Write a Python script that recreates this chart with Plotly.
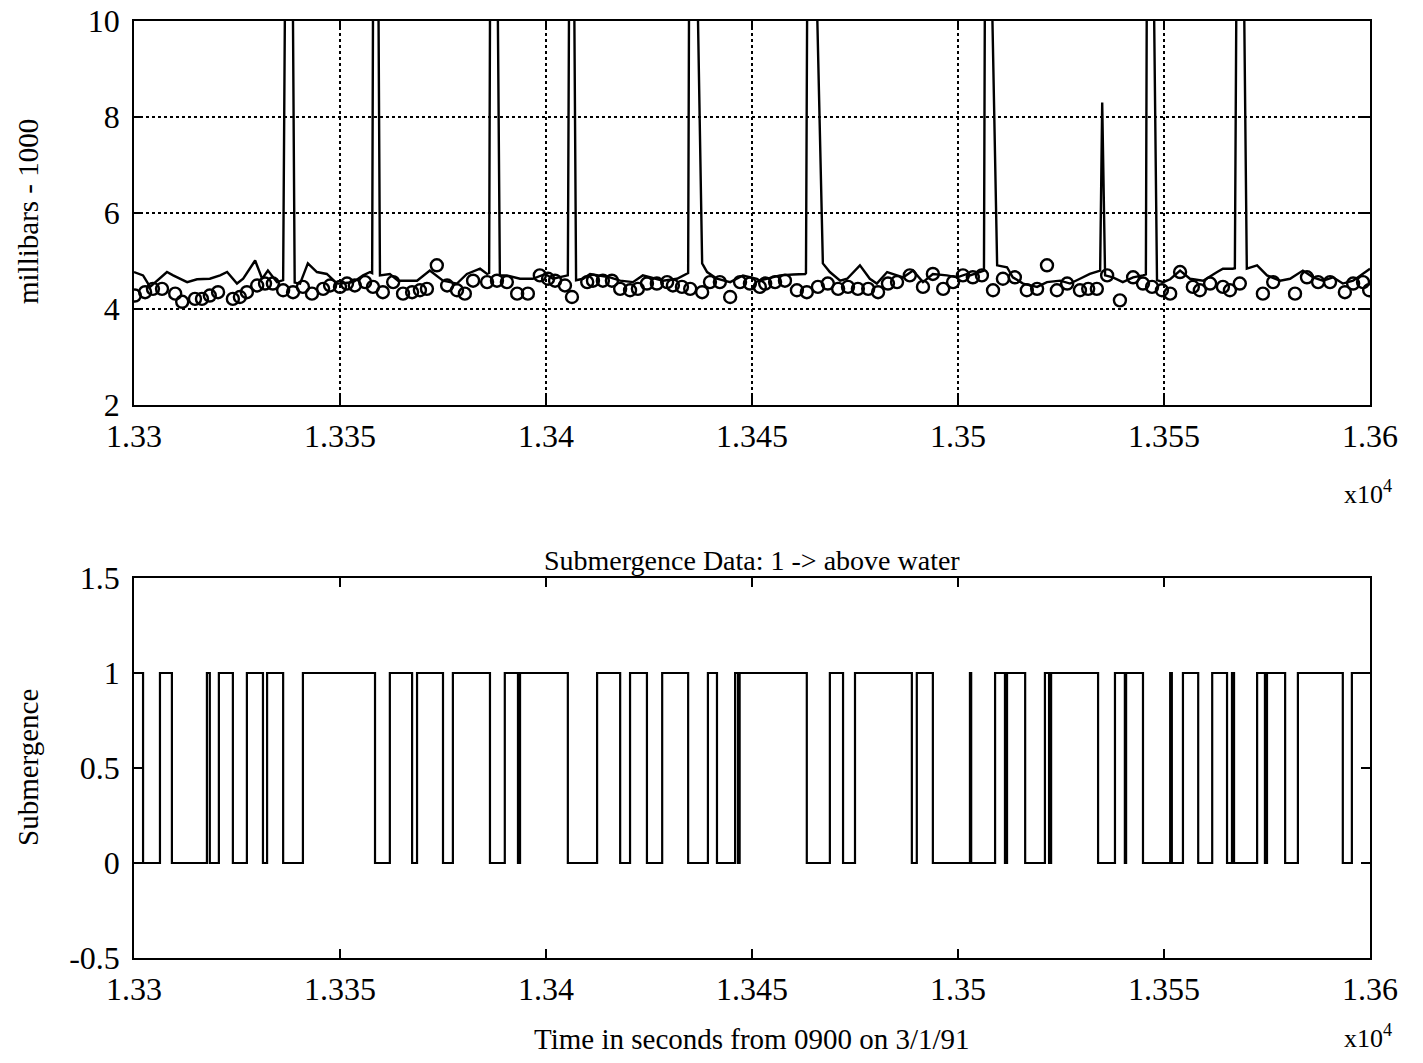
import plotly.graph_objects as go

# ---------------- data ----------------
x_tick_vals = [13300, 13350, 13400, 13450, 13500, 13550, 13600]
x_tick_labels = ["1.33", "1.335", "1.34", "1.345", "1.35", "1.355", "1.36"]
y1_tick_vals = [2, 4, 6, 8, 10]
y1_tick_labels = ["2", "4", "6", "8", "10"]
y2_tick_vals = [-0.5, 0, 0.5, 1, 1.5]
y2_tick_labels = ["-0.5", "0", "0.5", "1", "1.5"]

# pressure (millibars - 1000), solid line; spikes exceed the axis top
press_t = [
    13300.0, 13302.2, 13303.9, 13308.0, 13309.5, 13312.9, 13315.3, 13318.4, 13320.9, 13322.6,
    13325.0, 13326.5, 13329.4, 13331.1, 13332.5, 13334.7,
    13336.2, 13336.8, 13338.4, 13339.0,
    13340.3, 13342.2, 13344.4, 13346.8, 13349.3, 13350.0, 13353.2, 13355.6, 13357.3,
    13357.8, 13358.1, 13359.2, 13359.7,
    13362.1, 13364.1, 13368.7, 13371.8, 13375.0, 13378.4, 13380.8, 13384.0, 13385.7,
    13386.2, 13386.5, 13388.1, 13388.8,
    13390.5, 13393.7, 13396.8, 13399.8, 13401.7, 13405.1,
    13405.3, 13405.7, 13406.7, 13407.3,
    13409.0, 13410.7, 13413.1, 13415.5, 13418.0, 13421.1, 13423.5, 13425.2, 13428.4, 13431.8, 13434.2,
    13434.5, 13434.8, 13436.4, 13437.9, 13439.1,
    13441.5, 13444.7, 13447.8, 13451.2, 13451.9, 13456.8, 13460.0, 13462.9,
    13463.1, 13463.5, 13465.2, 13467.2,
    13468.9, 13471.4, 13473.1, 13476.2, 13478.6, 13480.3, 13482.8, 13486.7, 13489.1, 13491.5,
    13493.9, 13497.3, 13499.8, 13502.2, 13502.9, 13506.1,
    13506.3, 13506.6, 13507.8, 13509.5,
    13511.9, 13513.3, 13515.8, 13519.2, 13521.6, 13524.8, 13527.2, 13529.6, 13532.0, 13534.5,
    13535.0, 13535.7,
    13537.6, 13540.0, 13542.5, 13544.9,
    13545.6, 13545.9, 13547.3, 13548.3,
    13549.8, 13551.5, 13553.9, 13556.3, 13559.5, 13562.9, 13564.3, 13566.7,
    13567.2, 13567.7, 13569.2, 13570.1,
    13572.6, 13575.0, 13578.2, 13580.6, 13583.7, 13586.2, 13588.6, 13591.0, 13593.4, 13595.9,
    13598.3, 13600.0,
]
press_v = [
    4.77, 4.70, 4.46, 4.77, 4.70, 4.56, 4.62, 4.63, 4.70, 4.77,
    4.53, 4.63, 5.01, 4.63, 4.80, 4.56,
    4.60, 12.5, 12.5, 4.55,
    4.53, 4.95, 4.77, 4.73, 4.53, 4.53, 4.56, 4.70, 4.77,
    4.75, 12.5, 12.5, 4.70,
    4.73, 4.59, 4.59, 4.80, 4.59, 4.53, 4.73, 4.84, 4.73,
    4.75, 12.5, 12.5, 4.70,
    4.70, 4.63, 4.63, 4.73, 4.63, 4.70,
    4.70, 12.5, 12.5, 4.60,
    4.63, 4.73, 4.70, 4.66, 4.59, 4.56, 4.70, 4.66, 4.59, 4.63, 4.73,
    4.75, 12.5, 12.5, 4.95, 4.77,
    4.63, 4.56, 4.70, 4.63, 4.59, 4.70, 4.72, 4.73,
    4.75, 12.5, 12.5, 4.95,
    4.77, 4.59, 4.63, 4.91, 4.63, 4.53, 4.77, 4.66, 4.80, 4.56,
    4.73, 4.70, 4.66, 4.73, 4.70, 4.80,
    4.80, 12.5, 12.5, 4.91,
    4.87, 4.66, 4.53, 4.46, 4.56, 4.59, 4.53, 4.63, 4.73, 4.80,
    8.30, 4.70,
    4.66, 4.56, 4.66, 4.70,
    4.72, 12.5, 12.5, 4.60,
    4.56, 4.62, 4.80, 4.63, 4.59, 4.77, 4.84, 4.84,
    4.85, 12.5, 12.5, 4.84,
    4.91, 4.70, 4.59, 4.63, 4.80, 4.66, 4.59, 4.66, 4.53, 4.59,
    4.73, 4.84,
]

# second pressure record, plotted as open circles
circ_t = [
    13300.2, 13302.7, 13304.6, 13306.8, 13310.0, 13311.7, 13314.8, 13316.5, 13318.4, 13320.4,
    13324.0, 13325.7, 13327.4, 13329.9, 13331.8, 13333.7, 13336.2, 13338.6, 13341.0, 13343.2,
    13345.9, 13347.6, 13350.0, 13351.7, 13353.6, 13356.1, 13358.0, 13360.4, 13362.9, 13365.3,
    13367.5, 13369.4, 13371.1, 13373.5, 13376.0, 13378.4, 13380.3, 13382.3, 13385.7, 13388.1,
    13390.5, 13393.0, 13395.6, 13398.5, 13400.5, 13402.2, 13404.6, 13406.3, 13410.0, 13411.4,
    13413.8, 13416.0, 13418.0, 13420.4, 13422.3, 13424.5, 13426.9, 13429.4, 13430.8, 13433.0,
    13435.0, 13437.9, 13439.8, 13442.2, 13444.7, 13447.1, 13449.5, 13451.9, 13453.2, 13455.6,
    13458.0, 13460.9, 13463.3, 13466.0, 13468.4, 13470.9, 13473.3, 13475.7, 13478.2, 13480.6,
    13483.0, 13485.2, 13488.3, 13491.5, 13493.9, 13496.4, 13498.8, 13501.2, 13503.6, 13505.8,
    13508.5, 13510.9, 13513.8, 13516.7, 13519.2, 13521.6, 13524.0, 13526.5, 13529.6, 13531.6,
    13533.7, 13536.2, 13539.3, 13542.5, 13544.9, 13547.1, 13549.5, 13551.5, 13553.9, 13557.0,
    13558.7, 13561.2, 13564.3, 13566.0, 13568.4, 13574.0, 13576.5, 13581.8, 13584.7, 13587.4,
    13590.3, 13593.9, 13595.9, 13598.3, 13599.8,
]
circ_v = [
    4.28, 4.35, 4.42, 4.42, 4.32, 4.15, 4.21, 4.21, 4.28, 4.35,
    4.21, 4.25, 4.35, 4.49, 4.53, 4.53, 4.39, 4.35, 4.46, 4.32,
    4.42, 4.49, 4.46, 4.53, 4.49, 4.56, 4.46, 4.35, 4.56, 4.32,
    4.35, 4.39, 4.42, 4.91, 4.49, 4.39, 4.32, 4.59, 4.56, 4.59,
    4.56, 4.32, 4.32, 4.70, 4.63, 4.59, 4.49, 4.25, 4.56, 4.59,
    4.59, 4.59, 4.42, 4.39, 4.42, 4.53, 4.53, 4.56, 4.49, 4.46,
    4.42, 4.35, 4.56, 4.56, 4.25, 4.56, 4.53, 4.46, 4.53, 4.56,
    4.59, 4.39, 4.35, 4.46, 4.53, 4.42, 4.46, 4.42, 4.42, 4.35,
    4.53, 4.56, 4.70, 4.46, 4.73, 4.42, 4.56, 4.70, 4.66, 4.70,
    4.39, 4.63, 4.66, 4.39, 4.42, 4.91, 4.39, 4.53, 4.39, 4.42,
    4.42, 4.70, 4.18, 4.66, 4.53, 4.46, 4.39, 4.32, 4.77, 4.46,
    4.39, 4.53, 4.46, 4.39, 4.53, 4.32, 4.56, 4.32, 4.66, 4.56,
    4.56, 4.35, 4.53, 4.56, 4.39,
]

# submergence state (1 = above water), value holds until next time
sub_t = [
    13301.5, 13302.2, 13306.3, 13309.2, 13317.7, 13318.4, 13320.6, 13324.0, 13327.4, 13331.3,
    13332.3, 13336.2, 13341.0, 13358.5, 13362.1, 13367.5, 13368.7, 13375.0, 13377.4, 13386.4,
    13390.0, 13393.2, 13393.7, 13405.3, 13412.4, 13418.0, 13420.4, 13424.5, 13428.2, 13434.5,
    13439.3, 13441.5, 13445.9, 13446.6, 13447.0, 13463.3, 13468.9, 13472.1, 13475.0, 13488.8,
    13490.0, 13493.9, 13502.9, 13503.2, 13509.0, 13511.4, 13511.9, 13516.3, 13521.1, 13522.1,
    13522.6, 13534.0, 13538.1, 13540.5, 13540.8, 13544.9, 13551.5, 13551.9, 13554.6, 13558.3,
    13561.7, 13565.3, 13566.5, 13567.0, 13572.6, 13574.5, 13575.0, 13579.4, 13582.5, 13593.4,
    13595.6, 13599.0,
]
sub_v = [
    1, 0, 1, 0, 1, 0, 1, 0, 1, 0,
    1, 0, 1, 0, 1, 0, 1, 0, 1, 0,
    1, 0, 1, 0, 1, 0, 1, 0, 1, 0,
    1, 0, 1, 0, 1, 0, 1, 0, 1, 0,
    1, 0, 1, 0, 1, 0, 1, 0, 1, 0,
    1, 0, 1, 0, 1, 0, 1, 0, 1, 0,
    1, 0, 1, 0, 1, 0, 1, 0, 1, 0,
    1, 1,
]

# ---------------- figure ----------------
# the page body adds an 8 px margin, so the figure is drawn 16 px smaller and
# reference pixel positions are shifted by that offset
OFF = 8
W, H = 1423 - 2 * OFF, 1063 - 2 * OFF
FONT = "Liberation Serif, Times New Roman, serif"


def px(xp):
    return (xp - OFF) / W


def py(yp):
    return (H - (yp - OFF)) / H


X_DOM = [px(134), px(1370)]
Y1_DOM = [py(405), py(21)]
Y2_DOM = [py(958), py(578)]

fig = go.Figure()
fig.add_trace(go.Scatter(x=press_t, y=press_v, mode="lines",
                         line=dict(color="black", width=2.4),
                         xaxis="x", yaxis="y", showlegend=False))
fig.add_trace(go.Scatter(x=circ_t, y=circ_v, mode="markers",
                         marker=dict(symbol="circle-open", size=12, color="black",
                                     line=dict(width=2.4, color="black")),
                         xaxis="x", yaxis="y", showlegend=False, cliponaxis=True))
fig.add_trace(go.Scatter(x=sub_t, y=sub_v, mode="lines", line_shape="hv",
                         line=dict(color="black", width=2.2),
                         xaxis="x2", yaxis="y2", showlegend=False))

axis_common = dict(showline=True, linecolor="black", linewidth=1.6, mirror="ticks",
                   ticks="inside", ticklen=9, tickwidth=1.5, tickcolor="black",
                   zeroline=False, automargin=False, ticklabeloverflow="allow",
                   tickfont=dict(family=FONT, size=32, color="black"))

fig.update_layout(
    width=W, height=H,
    margin=dict(l=0, r=0, t=0, b=0),
    paper_bgcolor="white", plot_bgcolor="white",
    xaxis=dict(domain=X_DOM, anchor="y", range=[13300, 13600],
               tickvals=x_tick_vals, ticktext=x_tick_labels,
               showgrid=True, gridcolor="black", griddash="dot", gridwidth=1.5,
               ticklabelstandoff=2, **axis_common),
    yaxis=dict(domain=Y1_DOM, anchor="x", range=[2, 10],
               tickvals=y1_tick_vals, ticktext=y1_tick_labels,
               showgrid=True, gridcolor="black", griddash="dot", gridwidth=1.5,
               ticklabelstandoff=6, **axis_common),
    xaxis2=dict(domain=X_DOM, anchor="y2", range=[13300, 13600],
                tickvals=x_tick_vals, ticktext=x_tick_labels,
                showgrid=False, ticklabelstandoff=2, **axis_common),
    yaxis2=dict(domain=Y2_DOM, anchor="x2", range=[-0.5, 1.5],
                tickvals=y2_tick_vals, ticktext=y2_tick_labels,
                showgrid=False, ticklabelstandoff=6, **axis_common),
)

txt = dict(family=FONT, color="black")
fig.add_annotation(text="millibars - 1000", x=px(28), y=py(212), xref="paper", yref="paper",
                   textangle=-90, showarrow=False, font=dict(size=29, **txt),
                   xanchor="center", yanchor="middle")
fig.add_annotation(text="Submergence", x=px(28), y=py(768), xref="paper", yref="paper",
                   textangle=-90, showarrow=False, font=dict(size=29, **txt),
                   xanchor="center", yanchor="middle")
fig.add_annotation(text="Submergence Data: 1 -> above water", x=px(752), y=py(560),
                   xref="paper", yref="paper", showarrow=False, font=dict(size=28, **txt),
                   xanchor="center", yanchor="middle")
fig.add_annotation(text="Time in seconds from 0900 on 3/1/91", x=px(752), y=py(1039),
                   xref="paper", yref="paper", showarrow=False, font=dict(size=29, **txt),
                   xanchor="center", yanchor="middle")
for ypix in (492, 1036):
    fig.add_annotation(text="x10<sup>4</sup>", x=px(1368), y=py(ypix),
                       xref="paper", yref="paper", showarrow=False, font=dict(size=26, **txt),
                       xanchor="center", yanchor="middle")

fig.write_html("out.html")
